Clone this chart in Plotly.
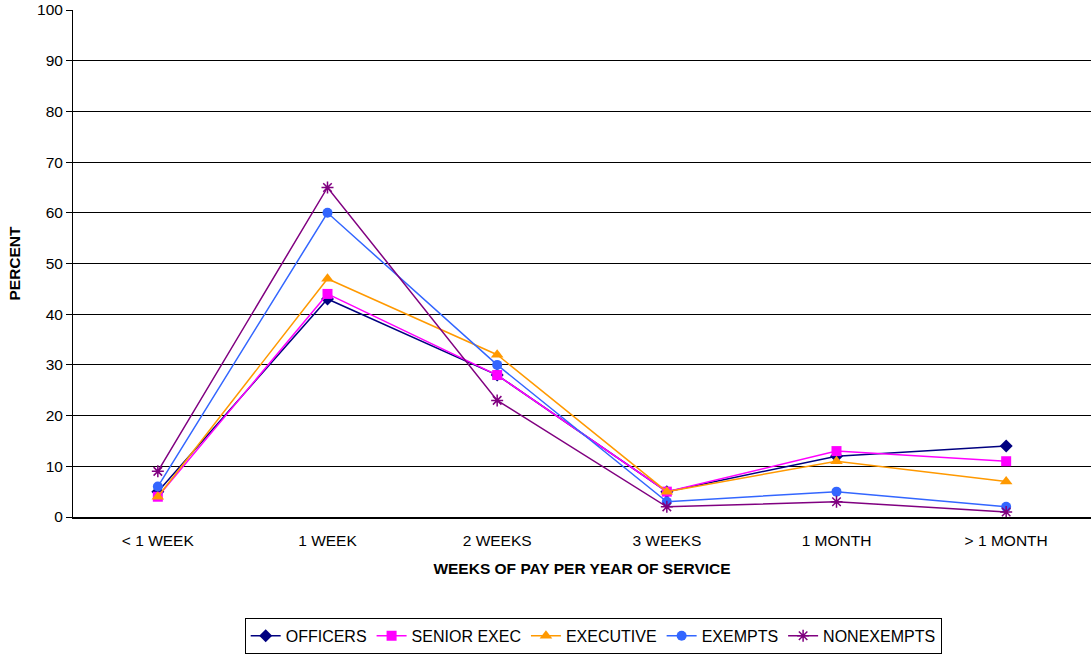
import plotly.graph_objects as go

categories = ["< 1 WEEK", "1 WEEK", "2 WEEKS", "3 WEEKS", "1 MONTH", "> 1 MONTH"]
officers = [5, 43, 28, 5, 12, 14]
senior_exec = [4, 44, 28, 5, 13, 11]
executive = [4, 47, 32, 5, 11, 7]
exempts = [6, 60, 30, 3, 5, 2]
nonexempts = [9, 65, 23, 2, 3, 1]
y_ticks = [0, 10, 20, 30, 40, 50, 60, 70, 80, 90, 100]

series = [
    ("OFFICERS", officers, "#000080", "diamond", 10),
    ("SENIOR EXEC", senior_exec, "#FF00FF", "square", 10),
    ("EXECUTIVE", executive, "#FF9900", "triangle-up", 11),
    ("EXEMPTS", exempts, "#3366FF", "circle", 10),
    ("NONEXEMPTS", nonexempts, "#800080", "asterisk-open", 10),
]

fig = go.Figure()
for name, vals, color, sym, size in series:
    marker = dict(symbol=sym, size=size, color=color)
    if sym == "asterisk-open":
        marker["line"] = dict(color=color, width=1.5)
    fig.add_trace(go.Scatter(
        x=list(range(len(categories))), y=vals, name=name,
        mode="lines+markers",
        line=dict(color=color, width=1.5),
        marker=marker,
    ))

font = "Liberation Sans, Arial, sans-serif"
fs = 15.5
fig.update_layout(
    width=1091, height=658,
    margin=dict(l=73, r=0, t=10, b=141, autoexpand=False),
    plot_bgcolor="white", paper_bgcolor="white",
    font=dict(family=font, size=fs, color="black"),
    showlegend=True,
    legend=dict(
        orientation="h", x=0.511, xanchor="center", y=-0.270, yanchor="bottom",
        bordercolor="black", borderwidth=1, bgcolor="white",
        font=dict(family=font, size=16, color="black"),
        tracegroupgap=0,
    ),
    xaxis=dict(
        range=[-0.5, 5.5],
        tickmode="array", tickvals=list(range(len(categories))), ticktext=categories,
        showgrid=False, showline=True, linecolor="black", linewidth=2,
        ticks="", zeroline=False, ticklabelstandoff=8,
        title=dict(text="<b>WEEKS OF PAY PER YEAR OF SERVICE</b>", font=dict(size=fs), standoff=16),
    ),
    yaxis=dict(
        range=[0, 100],
        tickmode="array", tickvals=y_ticks,
        showgrid=True, gridcolor="black", gridwidth=1,
        showline=True, linecolor="black", linewidth=1,
        ticks="outside", ticklen=6, tickcolor="black",
        zeroline=False,
        title=dict(text="<b>PERCENT</b>", font=dict(size=fs), standoff=12),
    ),
)

fig.write_html("out.html", config={"displayModeBar": False},
               post_script="document.body.style.margin='0';")
